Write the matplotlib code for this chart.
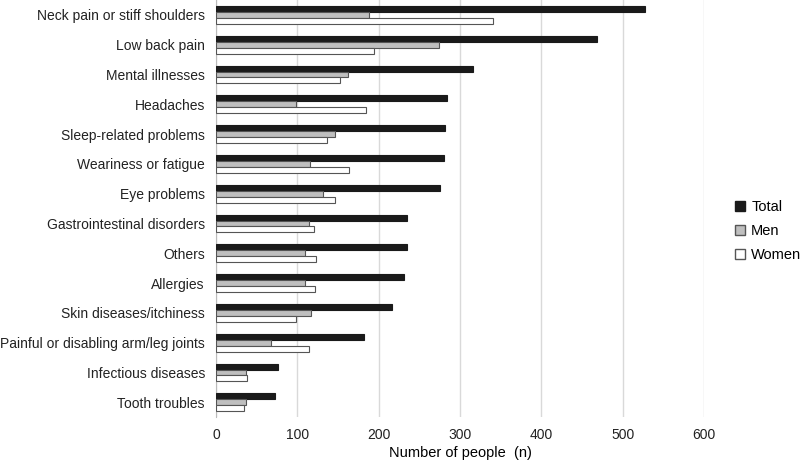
import matplotlib.pyplot as plt
import numpy as np
from matplotlib.patches import Patch

plt.rcParams['font.family'] = ['Liberation Sans', 'DejaVu Sans']

categories = ['Neck pain or stiff shoulders', 'Low back pain', 'Mental illnesses', 'Headaches',
              'Sleep-related problems', 'Weariness or fatigue', 'Eye problems',
              'Gastrointestinal disorders', 'Others', 'Allergies', 'Skin diseases/itchiness',
              'Painful or disabling arm/leg joints', 'Infectious diseases', 'Tooth troubles']
total = [528, 469, 316, 284, 282, 280, 276, 235, 235, 231, 216, 182, 76, 73]
men = [188, 274, 162, 98, 146, 116, 131, 114, 109, 109, 117, 68, 37, 37]
women = [340, 194, 153, 185, 136, 164, 146, 120, 123, 122, 98, 114, 38, 35]

fig = plt.figure(figsize=(8, 4.62), dpi=100)
ax = fig.add_axes([0.27, 0.097, 0.61, 0.903])

y = np.arange(len(categories))
h = 0.2
ax.barh(y - h, total, height=h, color='#1a1a1a', edgecolor='#1a1a1a', lw=0.8, label='Total', zorder=3)
ax.barh(y, men, height=h, color='#bfbfbf', edgecolor='#555555', lw=0.8, label='Men', zorder=3)
ax.barh(y + h, women, height=h, color='white', edgecolor='#555555', lw=0.8, label='Women', zorder=3)

ax.set_ylim(len(categories) - 0.5, -0.5)
ax.set_xlim(0, 600)
ax.set_xticks(range(0, 700, 100))
ax.set_yticks(y)
ax.set_yticklabels(categories, fontsize=10)
ax.tick_params(axis='both', length=0, labelsize=10, colors='#222222')
ax.tick_params(axis='y', pad=8)
ax.tick_params(axis='x', pad=8)
ax.grid(axis='x', color='#d9d9d9', lw=1, zorder=0)
for s in ['top', 'right', 'bottom']:
    ax.spines[s].set_visible(False)
ax.spines['left'].set_color('#bbbbbb')
ax.set_xlabel('Number of people  (n)', fontsize=10.5, labelpad=3)

handles = [Patch(facecolor='#1a1a1a', edgecolor='#1a1a1a', label='Total'),
           Patch(facecolor='#bfbfbf', edgecolor='#555555', label='Men'),
           Patch(facecolor='white', edgecolor='#555555', label='Women')]
fig.legend(handles=handles, loc='center left', bbox_to_anchor=(0.908, 0.5), frameon=False,
           fontsize=10.5, handlelength=0.7, handleheight=0.7, labelspacing=0.7,
           handletextpad=0.4, borderaxespad=0.2)

fig.savefig('out.png', dpi=100)
